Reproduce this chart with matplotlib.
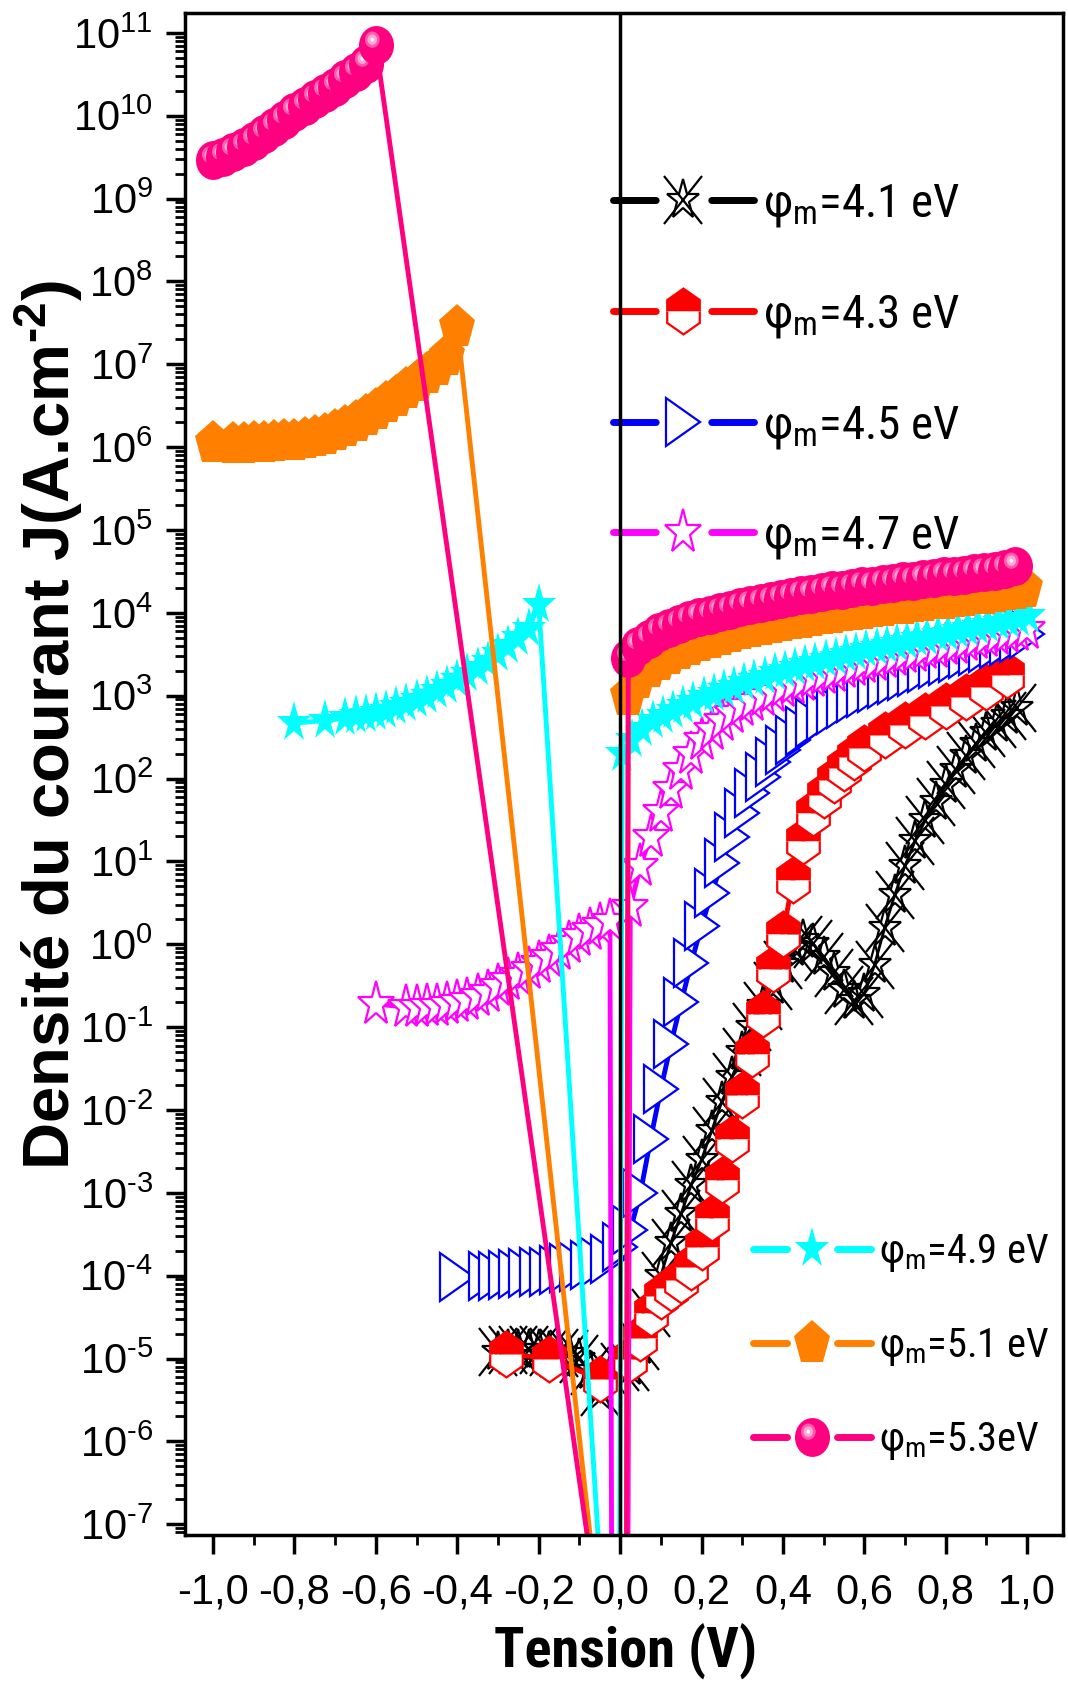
import numpy as np
import matplotlib
matplotlib.use('Agg')
import matplotlib.pyplot as plt
from matplotlib import font_manager
from matplotlib.font_manager import FontProperties
from matplotlib.lines import Line2D
from matplotlib.markers import MarkerStyle
from matplotlib.path import Path
from matplotlib.transforms import Affine2D
from matplotlib.ticker import LogLocator, FixedLocator, FixedFormatter, NullFormatter, FuncFormatter

plt.rcParams['font.family'] = ['Liberation Sans', 'DejaVu Sans']
plt.rcParams['mathtext.default'] = 'regular'
plt.rcParams['lines.scale_dashes'] = False

# the original picture is squeezed sideways: use a narrow face for legend / x label if one exists
ttf = font_manager.fontManager.ttflist
names = {f.name for f in ttf}
cond_fam, cond_st = 'Liberation Sans', 'normal'
for n in ['Liberation Sans Narrow', 'Arial Narrow', 'Roboto Condensed', 'Open Sans Condensed',
          'Noto Sans Condensed']:
    if n in names:
        cond_fam = n
        break
else:
    for fam in ['Liberation Sans', 'Roboto', 'Noto Sans', 'Open Sans', 'Lato', 'Inter']:
        if any(f.name == fam and 'condensed' in str(f.stretch) for f in ttf):
            cond_fam, cond_st = fam, 'condensed'
            break

# ---------------- data (log10 of J in A/cm2) ----------------
# phi_m = 4.1 eV
v41 = [-0.3, -0.275, -0.25, -0.225, -0.2, -0.175, -0.15, -0.125, -0.1, -0.075, -0.05, -0.025, 0.0,
       0.025, 0.05, 0.075, 0.1, 0.125, 0.15, 0.175, 0.2, 0.225, 0.25, 0.275, 0.3, 0.325, 0.35, 0.375,
       0.4, 0.425, 0.45, 0.475, 0.5, 0.525, 0.55, 0.575, 0.6, 0.625, 0.65, 0.675, 0.7, 0.725, 0.75,
       0.775, 0.8, 0.825, 0.85, 0.875, 0.9, 0.925, 0.95, 0.975]
lj41 = [-4.92, -4.9, -4.9, -4.9, -4.9, -4.92, -4.93, -4.95, -5.0, -5.15, -5.4, -5.2, -5.1,
        -5.1, -4.85, -4.45, -4.0, -3.6, -3.25, -2.9, -2.6, -2.25, -1.9, -1.6, -1.3, -1.0, -0.75, -0.5,
        -0.25, -0.05, 0.05, 0.0, -0.15, -0.35, -0.55, -0.68, -0.6, -0.25, 0.2, 0.6, 0.95, 1.25, 1.5,
        1.72, 1.92, 2.1, 2.27, 2.42, 2.55, 2.66, 2.76, 2.85]

# phi_m = 4.3 eV
v43 = [-0.28, -0.175, -0.05,
       0.025, 0.05, 0.075, 0.1, 0.125, 0.15, 0.175, 0.2, 0.225, 0.25, 0.275, 0.3, 0.325, 0.35, 0.375,
       0.4, 0.425, 0.45, 0.475, 0.5, 0.525, 0.55, 0.575, 0.6, 0.65, 0.7, 0.75, 0.8, 0.85, 0.9, 0.95]
lj43 = [-4.94, -5.0, -5.25,
        -5.0, -4.75, -4.45, -4.25, -4.15, -4.05, -3.9, -3.65, -3.3, -2.85, -2.35, -1.82, -1.33, -0.84, -0.3,
        0.13, 0.78, 1.25, 1.58, 1.8, 1.98, 2.13, 2.26, 2.37, 2.52, 2.65, 2.76, 2.87, 2.98, 3.1, 3.25]

# phi_m = 4.5 eV
v45 = [-0.4, -0.33, -0.305, -0.28, -0.255, -0.23, -0.205, -0.18, -0.155, -0.13, -0.105, -0.08, -0.055, -0.03,
       0.0, 0.025, 0.05, 0.075, 0.1, 0.125, 0.15, 0.175, 0.2, 0.225, 0.25, 0.275, 0.3, 0.325, 0.35, 0.375,
       0.4, 0.425, 0.45, 0.475, 0.5, 0.525, 0.55, 0.575, 0.6, 0.625, 0.65, 0.675, 0.7, 0.725, 0.75,
       0.775, 0.8, 0.825, 0.85, 0.875, 0.9, 0.925, 0.95, 0.975, 1.0]
lj45 = [-4.02, -4.0, -4.0, -3.99, -3.98, -3.97, -3.96, -3.95, -3.93, -3.91, -3.89, -3.87, -3.84, -3.8,
        -3.65, -3.45, -3.0, -2.35, -1.75, -1.2, -0.7, -0.22, 0.22, 0.62, 0.98, 1.3, 1.58, 1.82, 2.02, 2.2,
        2.35, 2.47, 2.58, 2.67, 2.75, 2.83, 2.9, 2.97, 3.03, 3.09, 3.14, 3.19, 3.24, 3.29, 3.33,
        3.38, 3.42, 3.46, 3.5, 3.54, 3.58, 3.62, 3.66, 3.7, 3.74]

# phi_m = 4.7 eV
v47 = [-0.6, -0.525, -0.5, -0.475, -0.45, -0.425, -0.4, -0.375, -0.35, -0.325, -0.3, -0.275, -0.25,
       -0.225, -0.2, -0.175, -0.15, -0.125, -0.1, -0.075, -0.05, -0.025,
       -0.02, 0.018,
       0.025, 0.05, 0.075, 0.1, 0.125, 0.15, 0.175, 0.2, 0.225, 0.25, 0.275, 0.3, 0.325, 0.35, 0.375,
       0.4, 0.425, 0.45, 0.475, 0.5, 0.525, 0.55, 0.575, 0.6, 0.625, 0.65, 0.675, 0.7, 0.725, 0.75,
       0.775, 0.8, 0.825, 0.85, 0.875, 0.9, 0.925, 0.95, 0.975, 1.0]
lj47 = [-0.72, -0.76, -0.76, -0.75, -0.74, -0.72, -0.7, -0.67, -0.63, -0.57, -0.5, -0.43, -0.37,
        -0.3, -0.23, -0.15, -0.07, 0.02, 0.1, 0.17, 0.23, 0.28,
        -9.0, -9.0,
        0.45, 0.95, 1.3, 1.6, 1.87, 2.1, 2.3, 2.46, 2.59, 2.7, 2.79, 2.87, 2.94, 3.0, 3.05,
        3.1, 3.14, 3.18, 3.22, 3.26, 3.29, 3.33, 3.36, 3.39, 3.42, 3.45, 3.48, 3.51, 3.53, 3.56,
        3.58, 3.61, 3.63, 3.66, 3.68, 3.71, 3.73, 3.76, 3.78, 3.81]

# phi_m = 4.9 eV
v49 = [-0.8, -0.725, -0.675, -0.65, -0.625, -0.6, -0.575, -0.55, -0.525, -0.5, -0.475, -0.45, -0.425,
       -0.4, -0.375, -0.35, -0.325, -0.3, -0.275, -0.25, -0.225, -0.2,
       -0.03, -0.002,
       0.005, 0.03, 0.055, 0.08, 0.105, 0.13, 0.155, 0.18, 0.205, 0.23, 0.255, 0.28, 0.305, 0.33, 0.355,
       0.38, 0.405, 0.43, 0.455, 0.48, 0.505, 0.53, 0.555, 0.58, 0.605, 0.63, 0.655, 0.68, 0.705, 0.73,
       0.755, 0.78, 0.805, 0.83, 0.855, 0.88, 0.905, 0.93, 0.955, 0.98, 1.005]
lj49 = [2.67, 2.7, 2.73, 2.75, 2.77, 2.79, 2.82, 2.86, 2.9, 2.95, 3.0, 3.06, 3.12,
        3.19, 3.26, 3.33, 3.41, 3.5, 3.6, 3.7, 3.8, 4.1,
        -9.0, -9.0,
        2.3, 2.47, 2.6, 2.69, 2.76, 2.82, 2.88, 2.93, 2.98, 3.02, 3.07, 3.11, 3.15, 3.19, 3.23,
        3.27, 3.3, 3.34, 3.37, 3.4, 3.43, 3.46, 3.49, 3.52, 3.55, 3.57, 3.6, 3.63, 3.65, 3.68,
        3.7, 3.73, 3.75, 3.78, 3.8, 3.83, 3.85, 3.88, 3.9, 3.93, 3.96]

# phi_m = 5.1 eV
v51 = [-1.0, -0.95, -0.925, -0.9, -0.875, -0.85, -0.825, -0.8, -0.775, -0.75, -0.725, -0.7, -0.675,
       -0.65, -0.625, -0.6, -0.575, -0.55, -0.525, -0.5, -0.475, -0.45, -0.425, -0.4,
       -0.032, 0.015,
       0.02, 0.045, 0.07, 0.095, 0.12, 0.145, 0.17, 0.195, 0.22, 0.245, 0.27, 0.295, 0.32, 0.345, 0.37,
       0.395, 0.42, 0.445, 0.47, 0.495, 0.52, 0.545, 0.57, 0.595, 0.62, 0.645, 0.67, 0.695, 0.72,
       0.745, 0.77, 0.795, 0.82, 0.845, 0.87, 0.895, 0.92, 0.945, 0.97, 0.995]
lj51 = [6.05, 6.04, 6.04, 6.05, 6.05, 6.06, 6.07, 6.08, 6.1, 6.12, 6.15, 6.19, 6.24,
        6.3, 6.37, 6.45, 6.53, 6.61, 6.7, 6.79, 6.88, 6.98, 7.1, 7.45,
        -9.0, -9.0,
        3.0, 3.2, 3.33, 3.42, 3.49, 3.55, 3.6, 3.65, 3.69, 3.72, 3.76, 3.79, 3.82, 3.84, 3.87,
        3.89, 3.91, 3.93, 3.95, 3.97, 3.99, 4.01, 4.02, 4.04, 4.06, 4.07, 4.09, 4.1, 4.12,
        4.13, 4.15, 4.16, 4.18, 4.19, 4.21, 4.22, 4.24, 4.26, 4.28, 4.3]

# phi_m = 5.3 eV
v53 = [-1.0, -0.975, -0.95, -0.925, -0.9, -0.875, -0.85, -0.825, -0.8, -0.775, -0.75, -0.725, -0.7,
       -0.675, -0.65, -0.625, -0.6,
       -0.027, 0.015,
       0.02, 0.045, 0.07, 0.095, 0.12, 0.145, 0.17, 0.195, 0.22, 0.245, 0.27, 0.295, 0.32, 0.345, 0.37,
       0.395, 0.42, 0.445, 0.47, 0.495, 0.52, 0.545, 0.57, 0.595, 0.62, 0.645, 0.67, 0.695, 0.72,
       0.745, 0.77, 0.795, 0.82, 0.845, 0.87, 0.895, 0.92, 0.945, 0.97]
lj53 = [9.47, 9.5, 9.56, 9.62, 9.69, 9.78, 9.86, 9.95, 10.05, 10.12, 10.2, 10.27, 10.35,
        10.44, 10.53, 10.62, 10.85,
        -9.0, -9.0,
        3.45, 3.6, 3.69, 3.77, 3.82, 3.87, 3.91, 3.95, 3.98, 4.01, 4.04, 4.07, 4.1, 4.12, 4.14,
        4.17, 4.19, 4.21, 4.23, 4.25, 4.27, 4.28, 4.3, 4.32, 4.33, 4.35, 4.36, 4.38, 4.39,
        4.41, 4.42, 4.44, 4.45, 4.46, 4.48, 4.49, 4.51, 4.53, 4.57]

labels = ['4.1 eV', '4.3 eV', '4.5 eV', '4.7 eV', '4.9 eV', '5.1 eV', '5.3eV']
xticks = [-1.0, -0.8, -0.6, -0.4, -0.2, 0.0, 0.2, 0.4, 0.6, 0.8, 1.0]
xticklabels = ['-1,0', '-0,8', '-0,6', '-0,4', '-0,2', '0,0', '0,2', '0,4', '0,6', '0,8', '1,0']
yexp = [-7, -6, -5, -4, -3, -2, -1, 0, 1, 2, 3, 4, 5, 6, 7, 8, 9, 10, 11]

j41, j43, j45, j47, j49, j51, j53 = [10.0 ** np.array(a) for a in (lj41, lj43, lj45, lj47, lj49, lj51, lj53)]

PINK, ORANGE, CYAN, MAG, BLUE, RED = '#ff0080', '#ff8000', '#00ffff', '#ff00ff', '#0000ff', '#ff0000'
HY = '\u2010'  # short hyphen (mathtext would turn '-' into a long minus)

sq = Affine2D().scale(0.82, 1.0)
sq_ball = Affine2D().scale(0.9, 1.0)
sq_tri = Affine2D().scale(0.72, 1.0)


def mk(m, fill='full', t=sq):
    return MarkerStyle(m, fillstyle=fill, transform=t)


def spot(r):
    # highlight spot, off centre (up-left) inside the ball marker box
    c = Path.circle((-0.24, 0.3), r)
    return Path.make_compound_path(c, Path([[1.0, 0.0]], [Path.MOVETO]))


hl = [(0.42, '#ff5cae'), (0.27, '#ffaad5'), (0.1, 'white')]

fig = plt.figure(figsize=(10.68, 16.85), dpi=100)
ax = fig.add_axes([0.1732, 0.0890, 0.8221, 0.9033])
LW = 3.5

# 4.1 : open star + cross
ax.plot(v41, j41, color='black', lw=2)
ax.plot(v41, j41, ls='none', marker=mk('*', 'none'), ms=30, mec='black', mew=1.6)
ax.plot(v41, j41, ls='none', marker=mk('x'), ms=34, mec='black', mew=1.6)
# 4.3 : half filled hexagon
ax.plot(v43, j43, color=RED, lw=LW, marker=mk('h', 'top'), ms=33, mfc=RED,
        markerfacecoloralt='white', mec=RED, mew=1.6)
# 4.5 : open right triangle (white inside)
ax.plot(v45, j45, color=BLUE, lw=LW, marker=mk('>', t=sq_tri), ms=34, mfc='white', mec=BLUE, mew=1.6)
# 4.7 : open star (white inside)
ax.plot(v47, j47, color=MAG, lw=LW, marker=mk('*'), ms=33, mfc='white', mec=MAG, mew=1.6)
# 4.9 : filled star
ax.plot(v49, j49, color=CYAN, lw=LW, marker=mk('*'), ms=31, mfc=CYAN, mec=CYAN, mew=0)
# 5.1 : filled pentagon
ax.plot(v51, j51, color=ORANGE, lw=LW, marker=mk('p'), ms=33, mfc=ORANGE, mec=ORANGE, mew=0)
# 5.3 : shiny ball, drawn one by one so each ball hides part of the previous one
ball = mk('o', t=sq_ball)
ax.plot(v53, j53, color=PINK, lw=LW)
for x, y in zip(v53, j53):
    ax.plot(x, y, ls='none', marker=ball, ms=28, mfc=PINK, mec=PINK, mew=0)
    for r, c in hl:
        ax.plot(x, y, ls='none', marker=MarkerStyle(spot(r), transform=sq_ball), ms=28, mfc=c, mew=0)

ax.axvline(0, color='black', lw=2.5, zorder=10)

ax.set_yscale('log')
ax.set_xlim(-1.069, 1.088)
ax.set_ylim(10 ** -7.13, 10 ** 11.24)
ax.yaxis.set_major_locator(FixedLocator([10.0 ** e for e in yexp]))
ax.yaxis.set_major_formatter(FixedFormatter(['$10^{%s}$' % str(e).replace('-', HY) for e in yexp]))
ax.yaxis.set_minor_locator(LogLocator(base=10, subs=(2, 3, 4, 5, 6, 7, 8, 9), numticks=400))
ax.yaxis.set_minor_formatter(NullFormatter())
ax.xaxis.set_major_locator(FixedLocator(xticks))
ax.xaxis.set_major_formatter(FixedFormatter(xticklabels))
ax.xaxis.set_minor_locator(FixedLocator([-0.9, -0.7, -0.5, -0.3, -0.1, 0.1, 0.3, 0.5, 0.7, 0.9]))
ax.tick_params(which='major', direction='out', length=14, width=2.5, labelsize=30)
ax.tick_params(which='minor', direction='out', length=7, width=2)
ax.tick_params(axis='y', pad=9)
ax.tick_params(axis='x', pad=13)
for s in ax.spines.values():
    s.set_linewidth(2.5)

renderer = fig.canvas.get_renderer()


def fit_size(s, prop, target_px):
    p = prop.copy()
    p.set_size(30)
    w, h, d = renderer.get_text_width_height_descent(s, p, ismath=('$' in s))
    return 30.0 * target_px / w


fig.text(0.045, 0.570, 'Densité du courant J(A.cm$^{%s2}$)' % HY, rotation=90, ha='center', va='center',
         fontsize=47, fontweight='bold')
xl_prop = FontProperties(family=[cond_fam, 'DejaVu Sans'], stretch=cond_st, weight='bold')
xl_size = fit_size('Tension (V)', xl_prop, 263)
fig.text(0.586, 0.003, 'Tension (V)', ha='center', va='bottom', fontproperties=xl_prop, fontsize=xl_size)


# legend proxies: line broken around the symbol
def hline(color, L, gap):
    a = (L - gap) / 2.0
    return Line2D([], [], color=color, lw=5, dash_capstyle='round',
                  linestyle=(0, (a, gap, a, 1000)))


def msym(**kw):
    return Line2D([], [], ls='none', **kw)


L1, G1 = 101.5, 40
L2, G2 = 85.0, 36
h41 = (hline('black', L1, G1), msym(marker=mk('*', 'none'), ms=30, mec='black', mew=1.6),
       msym(marker=mk('x'), ms=34, mec='black', mew=1.6))
h43 = (hline(RED, L1, G1), msym(marker=mk('h', 'top'), ms=33, mfc=RED, markerfacecoloralt='white',
                                 mec=RED, mew=1.6))
h45 = (hline(BLUE, L1, G1), msym(marker=mk('>', t=sq_tri), ms=34, mfc='white', mec=BLUE, mew=1.6))
h47 = (hline(MAG, L1, G1), msym(marker=mk('*'), ms=33, mfc='white', mec=MAG, mew=1.6))
h49 = (hline(CYAN, L2, G2), msym(marker=mk('*'), ms=31, mfc=CYAN, mew=0))
h51 = (hline(ORANGE, L2, G2), msym(marker=mk('p'), ms=33, mfc=ORANGE, mew=0))
h53 = (hline(PINK, L2, G2), msym(marker=ball, ms=28, mfc=PINK, mew=0)) + tuple(
    msym(marker=MarkerStyle(spot(r), transform=sq_ball), ms=28, mfc=c, mew=0) for r, c in hl)

lab = ['φ$_{m}$=' + t for t in labels]
lg_prop = FontProperties(family=[cond_fam, 'DejaVu Sans'], stretch=cond_st)
fs1 = fit_size(lab[0], lg_prop, 197)
fs2 = fit_size(lab[4], lg_prop, 170)
px = 100 / 72.0


def top_frac(row1_px, fs):
    ytop = row1_px + 6 - 0.99 * fs * px / 2
    return 1 - (ytop - 13) / 1522.0


p1 = lg_prop.copy()
p1.set_size(fs1)
p2 = lg_prop.copy()
p2.set_size(fs2)
leg1 = ax.legend([h41, h43, h45, h47], lab[:4], loc='upper left', bbox_to_anchor=(0.487, top_frac(199, fs1)),
                 frameon=False, prop=p1, handlelength=L1 / fs1, handletextpad=0.2,
                 labelspacing=(79.0 - 0.99 * fs1) / fs1, borderpad=0, borderaxespad=0)
ax.add_artist(leg1)
ax.legend([h49, h51, h53], lab[4:], loc='upper left', bbox_to_anchor=(0.647, top_frac(1246, fs2)),
          frameon=False, prop=p2, handlelength=L2 / fs2, handletextpad=0.2,
          labelspacing=(66.8 - 1.0 * fs2) / fs2, borderpad=0, borderaxespad=0)

fig.savefig('out.png', dpi=100)
